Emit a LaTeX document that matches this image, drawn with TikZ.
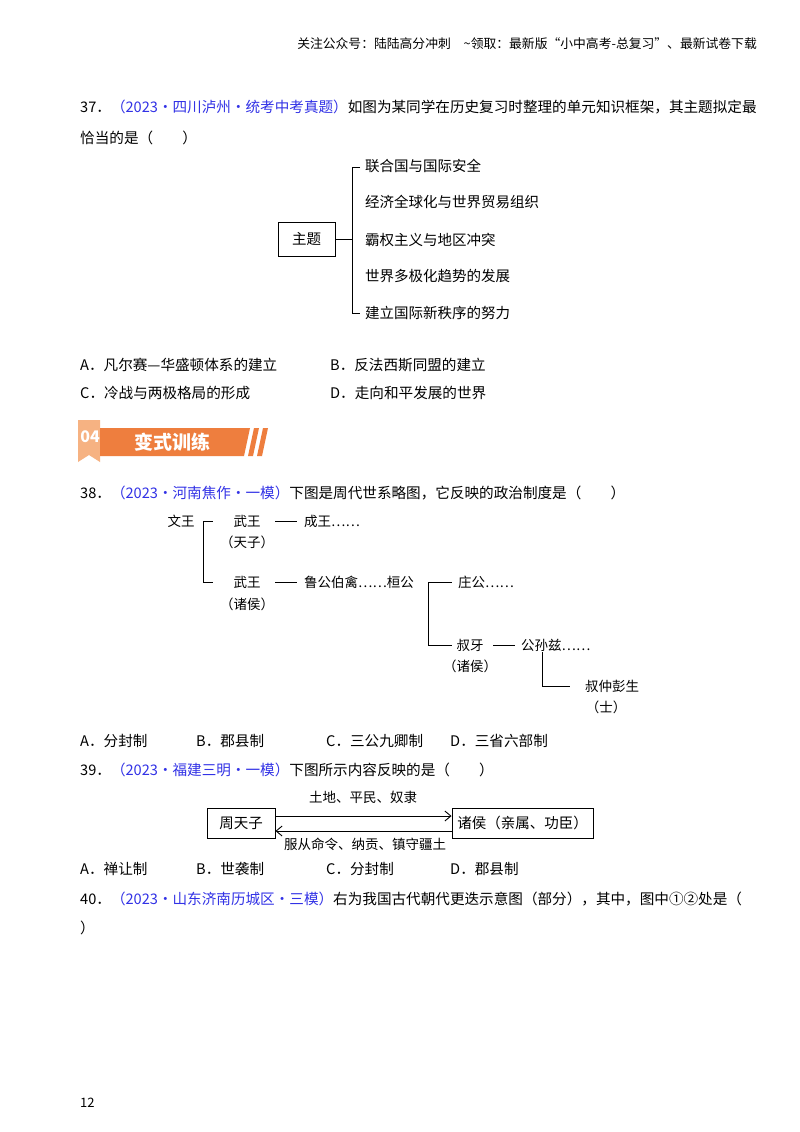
\documentclass[tikz,border=0pt]{standalone}
\usepackage{fontspec}
\setmainfont{Noto Sans CJK SC}
\usetikzlibrary{arrows.meta}
\definecolor{srcblue}{RGB}{50,50,230}
\definecolor{bannerA}{RGB}{246,178,130}
\definecolor{bannerB}{RGB}{238,126,62}
\begin{document}
\begin{tikzpicture}[x=1pt,y=-1pt,
  txt/.style={anchor=west,inner sep=0pt,font=\fontsize{14.6}{15}\selectfont},
  dg/.style={inner sep=0pt,font=\fontsize{14.5}{15}\selectfont},
  dgs/.style={inner sep=0pt,font=\fontsize{13.5}{14}\selectfont},
  ln/.style={line width=0.9pt},
  bx/.style={draw,line width=0.9pt,inner sep=0pt,font=\fontsize{14.5}{15}\selectfont}]
\useasboundingbox[fill=white] (0,0) rectangle (800,1132);
% header
\node[anchor=east,inner sep=0pt,font=\fontsize{12.8}{13}\selectfont] (hdr) at (757,44) {关注公众号：陆陆高分冲刺\quad \textasciitilde 领取：最新版“小中高考-总复习”、最新试卷下载};
% Q37
\node[txt] (q37) at (80,107) {37．\textcolor{srcblue}{（2023•四川泸州•统考中考真题）}如图为某同学在历史复习时整理的单元知识框架，其主题拟定最};
\node[txt] (q37b) at (80,138) {恰当的是（\qquad）};
\node[bx,minimum width=57pt,minimum height=34pt] (zt) at (306.5,239) {主题};
\coordinate (br) at (352,239);
\draw[ln] (zt.east) -- (br);
\draw[ln] (360,167) -- (352,167) -- (352,313) -- (360,313);
\foreach \t/\y [count=\i] in {联合国与国际安全/166,经济全球化与世界贸易组织/202,霸权主义与地区冲突/240,世界多极化趋势的发展/276,建立国际新秩序的努力/313}
  \node[dg,anchor=west] (it\i) at (365,\y) {\t};
\node[txt] (a37) at (80,365) {A．凡尔赛—华盛顿体系的建立};
\node[txt] (b37) at (330,365) {B．反法西斯同盟的建立};
\node[txt] (c37) at (80,393) {C．冷战与两极格局的形成};
\node[txt] (d37) at (330,393) {D．走向和平发展的世界};
% banner
\fill[bannerA] (78,420) -- (100,420) -- (100,462) -- (89,455) -- (78,462) -- cycle;
\fill[bannerB] (100,428) -- (250,428) -- (244,456) -- (100,456) -- cycle;
\fill[bannerB] (254,428) -- (259,428) -- (253,456) -- (248,456) -- cycle;
\fill[bannerB] (263,428) -- (268,428) -- (262,456) -- (257,456) -- cycle;
\node[inner sep=0pt,text=white,font=\fontsize{16}{16}\selectfont\bfseries] (b04) at (90,437) {04};
\node[inner sep=0pt,text=white,font=\fontsize{19}{19}\selectfont\bfseries] (bt) at (172,442) {变式训练};
% Q38
\node[txt] (q38) at (80,493) {38．\textcolor{srcblue}{（2023•河南焦作•一模）}下图是周代世系略图，它反映的政治制度是（\qquad）};
\node[dgs] (wen) at (181,521) {文王};
\node[dgs] (wu1) at (247,521) {武王};
\node[dgs] (tz) at (247,542) {（天子）};
\node[dgs,anchor=west] (cheng) at (304,521) {成王……};
\node[dgs] (wu2) at (247,582) {武王};
\node[dgs] (zh1) at (247,604) {（诸侯）};
\node[dgs,anchor=west] (lu) at (304,582) {鲁公伯禽……桓公};
\node[dgs,anchor=west] (zhuang) at (458,582) {庄公……};
\node[dgs] (shuya) at (470,645) {叔牙};
\node[dgs] (zh2) at (470,666) {（诸侯）};
\node[dgs,anchor=west] (gs) at (521,645) {公孙兹……};
\node[dgs] (sz) at (612,686) {叔仲彭生};
\node[dgs] (shi) at (606,707) {（士）};
\draw[ln] (203,521) -- (213,521);
\draw[ln] (203,521) -- (203,582) -- (213,582);
\draw[ln] (275,521) -- (297,521);
\draw[ln] (275,582) -- (297,582);
\draw[ln] (428,582) -- (452,582);
\draw[ln] (428,582) -- (428,645) -- (452,645);
\draw[ln] (493,645) -- (515,645);
\draw[ln] (542,652) -- (542,686) -- (570,686);
\node[txt] (a38) at (80,741) {A．分封制};
\node[txt] (b38) at (196,741) {B．郡县制};
\node[txt] (c38) at (326,741) {C．三公九卿制};
\node[txt] (d38) at (450,741) {D．三省六部制};
% Q39
\node[txt] (q39) at (80,770) {39．\textcolor{srcblue}{（2023•福建三明•一模）}下图所示内容反映的是（\qquad）};
\node[bx,minimum width=68pt,minimum height=30pt] (zhou) at (241,823) {周天子};
\node[bx,minimum width=141pt,minimum height=30pt] (zhuhou) at (522.5,823) {诸侯（亲属、功臣）};
\draw[ln,-{Straight Barb[length=6pt,width=10pt]}] (zhou.east|-0,816) -- (zhuhou.west|-0,816);
\draw[ln,-{Straight Barb[length=6pt,width=10pt]}] (zhuhou.west|-0,831) -- (zhou.east|-0,831);
\node[dgs] (l1) at (363,797) {土地、平民、奴隶};
\node[dgs] (l2) at (365,844) {服从命令、纳贡、镇守疆土};
\node[txt] (a39) at (80,869) {A．禅让制};
\node[txt] (b39) at (196,869) {B．世袭制};
\node[txt] (c39) at (326,869) {C．分封制};
\node[txt] (d39) at (450,869) {D．郡县制};
% Q40
\node[txt] (q40) at (80,899) {40．\textcolor{srcblue}{（2023•山东济南历城区•三模）}右为我国古代朝代更迭示意图（部分），其中，图中①②处是（};
\node[txt] (q40b) at (80,928) {）};
\node[txt,font=\fontsize{13}{13}\selectfont] (pg) at (80,1103) {12};
\end{tikzpicture}
\end{document}
